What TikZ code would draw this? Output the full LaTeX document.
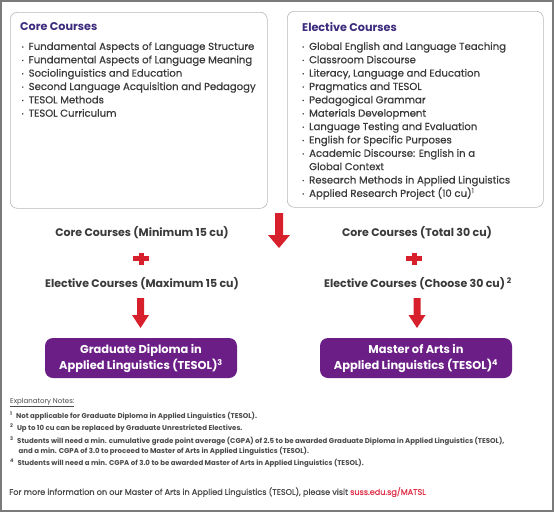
\documentclass[tikz,border=0pt]{standalone}
\usepackage{fontspec}
\setmainfont{Poppins}
\newfontfamily\medfont{Poppins}[FakeBold=0.6]
\usetikzlibrary{positioning}
\definecolor{frameg}{HTML}{7A7A7A}
\definecolor{boxg}{HTML}{B8B8B8}
\definecolor{titlep}{HTML}{3D2C7E}
\definecolor{txt}{HTML}{3A3A3A}
\definecolor{redc}{HTML}{D7202B}
\definecolor{purp}{HTML}{6C1E87}
\definecolor{notec}{HTML}{4A4A4A}
\definecolor{linkc}{HTML}{E0334A}
\newcommand{\bl}{\makebox[7pt][l]{\raisebox{1.2pt}{\fontsize{5}{5}\selectfont •}}}
\newcommand{\spx}[1]{\textsuperscript{#1}}
\tikzset{
  listbox/.style={draw=boxg, line width=0.6pt, rounded corners=7pt, fill=white, anchor=north west},
  boxtitle/.style={anchor=west, text=titlep, font=\fontsize{11.2}{14}\selectfont\bfseries, inner sep=0pt},
  listtext/.style={anchor=north west, text=txt, align=left, inner sep=0pt, font=\medfont\fontsize{10.1}{13.36}\selectfont},
  midtext/.style={text=txt, font=\fontsize{11}{13}\selectfont\bfseries, inner sep=0pt},
  degree/.style={fill=purp, text=white, rounded corners=8pt, minimum width=192pt, minimum height=40pt, align=center, font=\fontsize{11.4}{16}\selectfont\bfseries, inner sep=0pt},
  downarrow/.style={fill=redc, draw=none},
  notetext/.style={anchor=north west, text=notec, align=left, inner sep=0pt, font=\fontsize{7}{10}\selectfont\bfseries},
}
\begin{document}
\begin{tikzpicture}[x=1pt,y=-1pt]
\useasboundingbox (0,0) rectangle (554,512);
\fill[white] (0,0) rectangle (554,512);
\draw[frameg, line width=2pt] (1,1) rectangle (553,511);

% list boxes
\node[listbox, minimum width=257pt, minimum height=196pt] (corebox) at (10,12) {};
\node[listbox, minimum width=256pt, minimum height=196pt] (electbox) at (287,11) {};
\node[boxtitle] (coretitle) at (20,27) {Core Courses};
\node[boxtitle] (electtitle) at (302,27) {Elective Courses};
\node[listtext] (corelist) at (21.5,42) {\bl Fundamental Aspects of Language Structure\\
\bl Fundamental Aspects of Language Meaning\\
\bl Sociolinguistics and Education\\
\bl Second Language Acquisition and Pedagogy\\
\bl TESOL Methods\\
\bl TESOL Curriculum};
\node[listtext] (electlist) at (302,42) {\bl Global English and Language Teaching\\
\bl Classroom Discourse\\
\bl Literacy, Language and Education\\
\bl Pragmatics and TESOL\\
\bl Pedagogical Grammar\\
\bl Materials Development\\
\bl Language Testing and Evaluation\\
\bl English for Specific Purposes\\
\bl Academic Discourse: English in a\\
\hspace{7pt}Global Context\\
\bl Research Methods in Applied Linguistics\\
\bl Applied Research Project (10 cu)\spx{1}};

% big central arrow
\fill[downarrow] (275,213) -- (283,213) -- (283,235) -- (290,235) -- (279,248) -- (268,235) -- (275,235) -- cycle;

% left column
\node[midtext] (lcore) at (142,233) {Core Courses (Minimum 15 cu)};
\node[midtext] (lelect) at (142,284) {Elective Courses (Maximum 15 cu)};
\node[degree] (gd) at (141,358) {Graduate Diploma in\\Applied Linguistics (TESOL)\spx{3}};
\fill[redc] (133,256) rectangle (149,261);
\fill[redc] (138.5,252.5) rectangle (143.5,264.5);
\fill[downarrow] (137,298) -- (144,298) -- (144,315) -- (149,315) -- (140.5,328) -- (132,315) -- (137,315) -- cycle;

% right column
\node[midtext] (rcore) at (417,233) {Core Courses (Total 30 cu)};
\node[midtext] (relect) at (418,284) {Elective Courses (Choose 30 cu)\,\spx{2}};
\node[degree] (ma) at (416,358) {Master of Arts in\\Applied Linguistics (TESOL)\spx{4}};
\fill[redc] (406,256) rectangle (422,261);
\fill[redc] (411.5,252.5) rectangle (416.5,264.5);
\fill[downarrow] (413.5,298) -- (420.5,298) -- (420.5,315) -- (425.5,315) -- (417,328) -- (408.5,315) -- (413.5,315) -- cycle;

% notes
\node[notetext, font=\fontsize{7}{8}\selectfont] (nhead) at (10,398) {\underline{Explanatory Notes:}};
\node[notetext] (n1) at (10,412) {\spx{1}\hspace{2pt} Not applicable for Graduate Diploma in Applied Linguistics (TESOL).};
\node[notetext] (n2) at (10,424) {\spx{2}\hspace{2pt} Up to 10 cu can be replaced by Graduate Unrestricted Electives.};
\node[notetext] (n3) at (10,437) {\spx{3}\hspace{2pt} Students will need a min. cumulative grade point average (CGPA) of 2.5 to be awarded Graduate Diploma in Applied Linguistics (TESOL),\\
\hspace{7pt} and a min. CGPA of 3.0 to proceed to Master of Arts in Applied Linguistics (TESOL).};
\node[notetext] (n4) at (10,459) {\spx{4}\hspace{2pt} Students will need a min. CGPA of 3.0 to be awarded Master of Arts in Applied Linguistics (TESOL).};
\node[notetext, font=\medfont\fontsize{8.1}{9}\selectfont] (foot) at (9,487) {For more information on our Master of Arts in Applied Linguistics (TESOL), please visit {\color{linkc}suss.edu.sg/MATSL}};
\end{tikzpicture}
\end{document}
